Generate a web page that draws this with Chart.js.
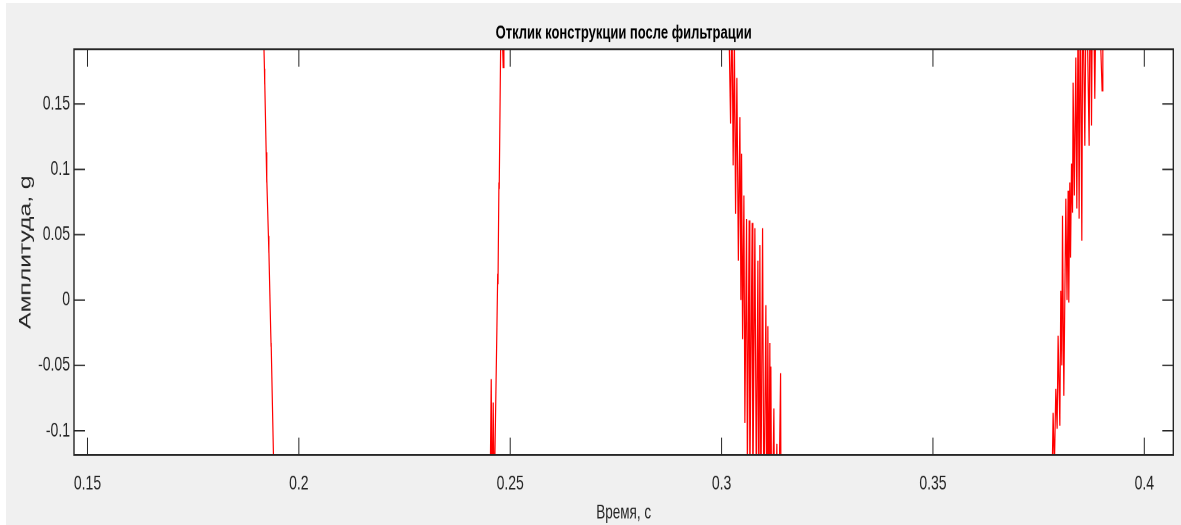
<!DOCTYPE html>
<html>
<head>
<meta charset="utf-8">
<script src="https://cdn.jsdelivr.net/npm/chart.js@4"></script>
<style>
  html, body { margin: 0; padding: 0; background: #ffffff; }
  #frame { position: absolute; left: 6px; top: 3px; width: 1175px; height: 522px; background: #f0f0f0; overflow: hidden; }
  #plot { position: absolute; left: 0; top: 0; transform: scaleY(1.45); transform-origin: 0 0; }
</style>
</head>
<body>
<div id="frame"><canvas id="plot" width="1175" height="360"></canvas></div>
<script>
// Ticks on both axes
const xTicks = [0.15, 0.2, 0.25, 0.3, 0.35, 0.4];
const yTicks = [-0.1, -0.05, 0, 0.05, 0.1, 0.15];

// Four crossings of the filtered response through the visible window
const burst1Time = [0.19148, 0.19186, 0.19192, 0.19193, 0.19227, 0.19240, 0.19242, 0.19280, 0.19290, 0.19292, 0.19335, 0.19343, 0.19345, 0.19400, 0.19420];
const burst1Amp  = [0.23, 0.177, 0.165, 0.168, 0.113, 0.090, 0.093, 0.049, 0.036, 0.038, -0.025, -0.035, -0.033, -0.12, -0.15];

const burst2Time = [0.24508, 0.24551, 0.24572, 0.24598, 0.24622, 0.24638, 0.24686, 0.24704, 0.24711, 0.24733, 0.24740, 0.24773, 0.24792, 0.24816, 0.24834, 0.24851];
const burst2Amp  = [-0.2, -0.0605, -0.17, -0.0784, -0.16, -0.119, -0.02, 0.02, 0.012, 0.09, 0.085, 0.192, 0.25, 0.20, 0.178, 0.26];

const burst3Time = [0.30149, 0.30213, 0.30244, 0.30274, 0.30303, 0.30331, 0.30362, 0.30397, 0.30433, 0.30457,
                    0.30473, 0.30497, 0.30528, 0.30551, 0.30591, 0.30610, 0.30653, 0.30669, 0.30724, 0.30740,
                    0.30788, 0.30823, 0.30859, 0.30882, 0.30906, 0.30930, 0.30970, 0.31001, 0.31048, 0.31072,
                    0.31095, 0.31119, 0.31142, 0.31154, 0.31166, 0.31190, 0.31237, 0.31261, 0.31308, 0.31332,
                    0.31396, 0.31415];
const burst3Amp  = [0.26, 0.135, 0.23, 0.103, 0.20, 0.066, 0.17, 0.03, 0.14, 0.00,
                    0.112, -0.030, 0.08, -0.094, 0.062, -0.13, 0.061, -0.14, 0.059, -0.15,
                    0.055, -0.15, 0.03, -0.16, 0.042, -0.16, 0.055, -0.17, -0.004, -0.18,
                    -0.02, -0.18, -0.033, -0.19, -0.051, -0.20, -0.083, -0.20, -0.11, -0.22,
                    -0.056, -0.25];

const burst4Time = [0.37765, 0.37843, 0.37872, 0.37907, 0.37938, 0.37961, 0.38002, 0.38025, 0.38049, 0.38065,
                    0.38096, 0.38144, 0.38172, 0.38198, 0.38214, 0.38238, 0.38255, 0.38278, 0.38302, 0.38316,
                    0.38345, 0.38380, 0.38404, 0.38434, 0.38458, 0.38486, 0.38522, 0.38546, 0.38593, 0.38628,
                    0.38695, 0.38723, 0.38751, 0.38782, 0.38829, 0.38877, 0.39002, 0.39019];
const burst4Amp  = [-0.25, -0.0863, -0.13, -0.0679, -0.0985, -0.0273, -0.0962, 0.0071, -0.05, 0.0645,
                    -0.0733, 0.0776, 0.0, 0.0837, -0.002, 0.09, 0.0324, 0.1044, 0.0668, 0.1664,
                    0.08, 0.1855, 0.07, 0.22, 0.0622, 0.24, 0.0454, 0.25, 0.1182, 0.26,
                    0.1182, 0.27, 0.1335, 0.28, 0.1541, 0.29, 0.1603, 0.32];

const times = [burst1Time, burst2Time, burst3Time, burst4Time].flat();
const amps = [burst1Amp, burst2Amp, burst3Amp, burst4Amp].flat();
const points = times.map((t, i) => ({ x: t, y: amps[i] }));

const FONT = "'Liberation Sans', Arial, sans-serif";
const AXIS_COLOR = '#262626';

// MATLAB-style frame: grey figure, white axes, box with inward ticks on all sides
const matlabBox = {
  id: 'matlabBox',
  beforeDraw(chart) {
    const { ctx, chartArea: a, width, height } = chart;
    ctx.save();
    ctx.fillStyle = '#f0f0f0';
    ctx.fillRect(0, 0, width, height);
    ctx.fillStyle = '#ffffff';
    ctx.fillRect(a.left, a.top, a.right - a.left, a.bottom - a.top);
    ctx.restore();
  },
  afterDraw(chart) {
    const { ctx, chartArea: a, scales } = chart;
    ctx.save();
    ctx.strokeStyle = AXIS_COLOR;
    ctx.lineWidth = 1;
    ctx.beginPath();
    scales.x.ticks.forEach(t => {
      const px = scales.x.getPixelForValue(t.value);
      ctx.moveTo(px, a.bottom); ctx.lineTo(px, a.bottom - 12);
      ctx.moveTo(px, a.top); ctx.lineTo(px, a.top + 12);
    });
    scales.y.ticks.forEach(t => {
      const py = scales.y.getPixelForValue(t.value);
      ctx.moveTo(a.left, py); ctx.lineTo(a.left + 11, py);
      ctx.moveTo(a.right, py); ctx.lineTo(a.right - 11, py);
    });
    ctx.stroke();
    ctx.lineWidth = 1.4;
    ctx.strokeRect(a.left, a.top, a.right - a.left, a.bottom - a.top);
    ctx.restore();
  }
};

new Chart(document.getElementById('plot'), {
  type: 'line',
  data: {
    datasets: [{
      data: points,
      borderColor: 'rgb(255, 0, 0)',
      borderWidth: 1.2,
      pointRadius: 0,
      tension: 0,
      fill: false,
      clip: 0
    }]
  },
  options: {
    responsive: false,
    animation: false,
    devicePixelRatio: 2,
    layout: { padding: { left: 0, right: 7.7, top: 0, bottom: 0 } },
    plugins: {
      legend: { display: false },
      tooltip: { enabled: false },
      title: {
        display: true,
        fullSize: false,
        text: 'Отклик конструкции после фильтрации',
        color: '#000000',
        font: { family: FONT, size: 13, weight: 'bold' },
        padding: { top: 13.1, bottom: 3.2 }
      }
    },
    scales: {
      x: {
        type: 'linear',
        min: 0.14681,
        max: 0.40686,
        grid: { display: false, drawTicks: false },
        border: { display: false },
        afterBuildTicks: s => { s.ticks = xTicks.map(v => ({ value: v })); },
        afterFit: s => { s.height = 48.3; },
        ticks: {
          color: AXIS_COLOR,
          padding: 11.6,
          maxRotation: 0,
          font: { family: FONT, size: 14 },
          callback: v => String(v)
        },
        title: {
          display: true,
          text: 'Время, с',
          color: AXIS_COLOR,
          font: { family: FONT, size: 13.5 },
          padding: { top: 0, bottom: 0 }
        }
      },
      y: {
        type: 'linear',
        min: -0.1186,
        max: 0.1919,
        grid: { display: false, drawTicks: false },
        border: { display: false },
        afterBuildTicks: s => { s.ticks = yTicks.map(v => ({ value: v })); },
        afterFit: s => { s.width = 68; },
        ticks: {
          color: AXIS_COLOR,
          padding: 4,
          font: { family: FONT, size: 14 },
          callback: v => String(v)
        },
        title: {
          display: true,
          text: 'Амплитуда, g',
          color: AXIS_COLOR,
          font: { family: FONT, size: 17 },
          padding: { top: 9.5, bottom: 0 }
        }
      }
    }
  },
  plugins: [matlabBox]
});
</script>
</body>
</html>
